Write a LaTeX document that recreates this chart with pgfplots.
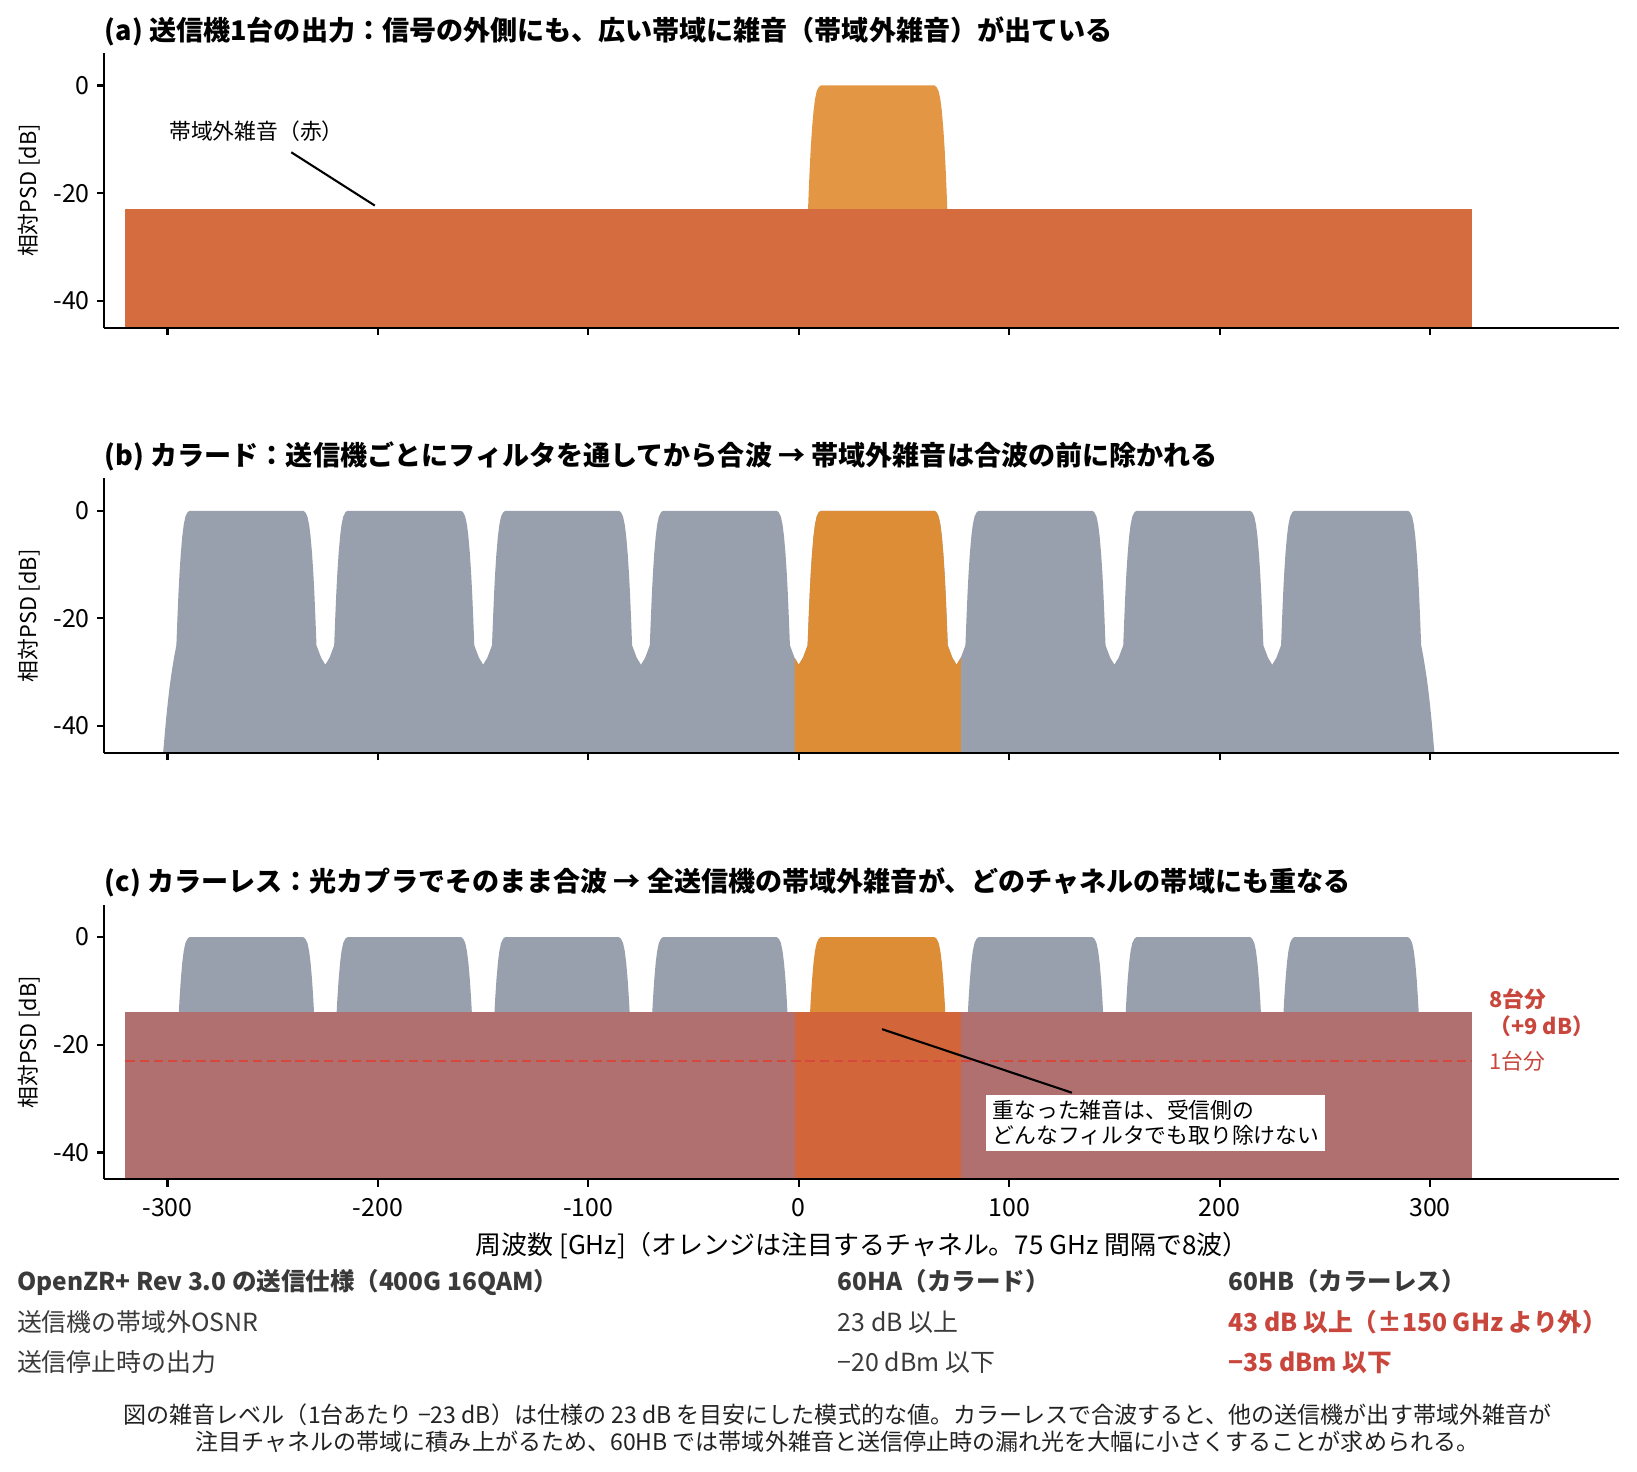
\documentclass[border=0pt]{standalone}
\usepackage{fontspec}
\setmainfont{Noto Sans CJK JP}
\usepackage{pgfplots}
\pgfplotsset{compat=1.18}
\definecolor{cGray}{RGB}{151,160,172}
\definecolor{cOrange}{RGB}{220,141,54}
\definecolor{cOrangeA}{RGB}{227,151,68}
\definecolor{cRedA}{RGB}{212,108,64}
\definecolor{cMauve}{RGB}{175,112,111}
\definecolor{cOrRed}{RGB}{210,101,58}
\definecolor{cDash}{RGB}{214,72,62}
\definecolor{cLab}{RGB}{200,70,60}
\definecolor{cTxt}{RGB}{58,58,58}
\definecolor{cFoot}{RGB}{34,34,34}
\pgfplotsset{
  psd/.style={
    scale only axis, width=727.2bp, height=131.8bp,
    anchor=south west,
    xmin=-330, xmax=390, ymin=-45, ymax=6,
    axis x line*=bottom, axis y line*=left,
    axis line style={line width=1bp, -},
    xtick={-300,-200,-100,0,100,200,300},
    ytick={-40,-20,0},
    yticklabels={-40,-20,0},
    tick align=outside, major tick length=3.5bp,
    every tick/.style={black, line width=1bp},
    tick label style={font=\fontsize{12}{14}\selectfont},
    xticklabel style={yshift=-2.2bp},
    axis on top,
  }
}
\begin{document}
\begin{tikzpicture}
\path[use as bounding box] (0,0) rectangle (785.76bp,706.56bp);

% ---------------- (a)
\begin{axis}[psd, at={(50.11bp,549.22bp)}, xticklabels={}]
\addplot[draw=none, fill=cOrangeA] coordinates {(4.2,-25) (4.7,-20) (5.2,-15.4) (5.7,-11.6) (6.3,-8.0) (7.0,-4.8) (7.7,-2.6) (8.5,-1.1) (9.5,-0.3) (10.5,0) (64.5,0) (65.5,-0.3) (66.5,-1.1) (67.3,-2.6) (68.0,-4.8) (68.7,-8.0) (69.3,-11.6) (69.8,-15.4) (70.3,-20) (70.8,-25)};
\addplot[draw=none, fill=cRedA] coordinates {(-320,-45) (-320,-23) (320,-23) (320,-45)};
\draw[line width=1bp] (axis cs:-241.2,-12.4) -- (axis cs:-201.5,-22.3);
\node[anchor=west, inner sep=0pt, font=\fontsize{10.5}{12}\selectfont] at (axis cs:-299.3,-8.5) {帯域外雑音（赤）};
\end{axis}

% ---------------- (b)
\begin{axis}[psd, at={(50.11bp,345.1bp)}, xticklabels={}]
\addplot[draw=none, fill=cGray] coordinates {
(-302.1,-45) (-301.6,-42.8) (-301.1,-40.5) (-300.5,-38.0) (-299.8,-35.4) (-299.1,-33.0) (-298.3,-30.7) (-297.5,-28.7) (-296.7,-26.8) (-295.8,-25)
(-295.3,-20) (-294.8,-15.4) (-294.3,-11.6) (-293.7,-8.0) (-293.0,-4.8) (-292.3,-2.6) (-291.5,-1.1) (-290.5,-0.3) (-289.5,0)
(-235.5,0) (-234.5,-0.3) (-233.5,-1.1) (-232.7,-2.6) (-232.0,-4.8) (-231.3,-8.0) (-230.7,-11.6) (-230.2,-15.4) (-229.7,-20) (-229.2,-25) (-227.0,-27.3) (-225.0,-28.6)
(-223.0,-27.3) (-220.8,-25) (-220.3,-20) (-219.8,-15.4) (-219.3,-11.6) (-218.7,-8.0) (-218.0,-4.8) (-217.3,-2.6) (-216.5,-1.1) (-215.5,-0.3) (-214.5,0)
(-160.5,0) (-159.5,-0.3) (-158.5,-1.1) (-157.7,-2.6) (-157.0,-4.8) (-156.3,-8.0) (-155.7,-11.6) (-155.2,-15.4) (-154.7,-20) (-154.2,-25) (-152.0,-27.3) (-150.0,-28.6)
(-148.0,-27.3) (-145.8,-25) (-145.3,-20) (-144.8,-15.4) (-144.3,-11.6) (-143.7,-8.0) (-143.0,-4.8) (-142.3,-2.6) (-141.5,-1.1) (-140.5,-0.3) (-139.5,0)
(-85.5,0) (-84.5,-0.3) (-83.5,-1.1) (-82.7,-2.6) (-82.0,-4.8) (-81.3,-8.0) (-80.7,-11.6) (-80.2,-15.4) (-79.7,-20) (-79.2,-25) (-77.0,-27.3) (-75.0,-28.6)
(-73.0,-27.3) (-70.8,-25) (-70.3,-20) (-69.8,-15.4) (-69.3,-11.6) (-68.7,-8.0) (-68.0,-4.8) (-67.3,-2.6) (-66.5,-1.1) (-65.5,-0.3) (-64.5,0)
(-10.5,0) (-9.5,-0.3) (-8.5,-1.1) (-7.7,-2.6) (-7.0,-4.8) (-6.3,-8.0) (-5.7,-11.6) (-5.2,-15.4) (-4.7,-20) (-4.2,-25) (-2.0,-27.3) (0.0,-28.6)
(2.0,-27.3) (4.2,-25) (4.7,-20) (5.2,-15.4) (5.7,-11.6) (6.3,-8.0) (7.0,-4.8) (7.7,-2.6) (8.5,-1.1) (9.5,-0.3) (10.5,0)
(64.5,0) (65.5,-0.3) (66.5,-1.1) (67.3,-2.6) (68.0,-4.8) (68.7,-8.0) (69.3,-11.6) (69.8,-15.4) (70.3,-20) (70.8,-25) (73.0,-27.3) (75.0,-28.6)
(77.0,-27.3) (79.2,-25) (79.7,-20) (80.2,-15.4) (80.7,-11.6) (81.3,-8.0) (82.0,-4.8) (82.7,-2.6) (83.5,-1.1) (84.5,-0.3) (85.5,0)
(139.5,0) (140.5,-0.3) (141.5,-1.1) (142.3,-2.6) (143.0,-4.8) (143.7,-8.0) (144.3,-11.6) (144.8,-15.4) (145.3,-20) (145.8,-25) (148.0,-27.3) (150.0,-28.6)
(152.0,-27.3) (154.2,-25) (154.7,-20) (155.2,-15.4) (155.7,-11.6) (156.3,-8.0) (157.0,-4.8) (157.7,-2.6) (158.5,-1.1) (159.5,-0.3) (160.5,0)
(214.5,0) (215.5,-0.3) (216.5,-1.1) (217.3,-2.6) (218.0,-4.8) (218.7,-8.0) (219.3,-11.6) (219.8,-15.4) (220.3,-20) (220.8,-25) (223.0,-27.3) (225.0,-28.6)
(227.0,-27.3) (229.2,-25) (229.7,-20) (230.2,-15.4) (230.7,-11.6) (231.3,-8.0) (232.0,-4.8) (232.7,-2.6) (233.5,-1.1) (234.5,-0.3) (235.5,0)
(289.5,0) (290.5,-0.3) (291.5,-1.1) (292.3,-2.6) (293.0,-4.8) (293.7,-8.0) (294.3,-11.6) (294.8,-15.4) (295.3,-20) (295.8,-25) (296.7,-26.8) (297.5,-28.7) (298.3,-30.7) (299.1,-33.0) (299.8,-35.4) (300.5,-38.0) (301.1,-40.5) (301.6,-42.8) (302.1,-45)
};
\addplot[draw=none, fill=cOrange] coordinates {
(-2.0,-45) (-2.0,-27.3) (0.0,-28.6)
(2.0,-27.3) (4.2,-25) (4.7,-20) (5.2,-15.4) (5.7,-11.6) (6.3,-8.0) (7.0,-4.8) (7.7,-2.6) (8.5,-1.1) (9.5,-0.3) (10.5,0)
(64.5,0) (65.5,-0.3) (66.5,-1.1) (67.3,-2.6) (68.0,-4.8) (68.7,-8.0) (69.3,-11.6) (69.8,-15.4) (70.3,-20) (70.8,-25) (73.0,-27.3) (75.0,-28.6)
(77.0,-27.3) (77.0,-45)
};
\end{axis}

% ---------------- (c)
\begin{axis}[psd, at={(50.11bp,140.45bp)}, xticklabels={-300,-200,-100,0,100,200,300}]
\addplot[draw=none, fill=cGray] coordinates {(-294.9,-16) (-294.3,-11.6) (-293.7,-8.0) (-293.0,-4.8) (-292.3,-2.6) (-291.5,-1.1) (-290.5,-0.3) (-289.5,0) (-235.5,0) (-234.5,-0.3) (-233.5,-1.1) (-232.7,-2.6) (-232.0,-4.8) (-231.3,-8.0) (-230.7,-11.6) (-230.1,-16)};
\addplot[draw=none, fill=cGray] coordinates {(-219.9,-16) (-219.3,-11.6) (-218.7,-8.0) (-218.0,-4.8) (-217.3,-2.6) (-216.5,-1.1) (-215.5,-0.3) (-214.5,0) (-160.5,0) (-159.5,-0.3) (-158.5,-1.1) (-157.7,-2.6) (-157.0,-4.8) (-156.3,-8.0) (-155.7,-11.6) (-155.1,-16)};
\addplot[draw=none, fill=cGray] coordinates {(-144.9,-16) (-144.3,-11.6) (-143.7,-8.0) (-143.0,-4.8) (-142.3,-2.6) (-141.5,-1.1) (-140.5,-0.3) (-139.5,0) (-85.5,0) (-84.5,-0.3) (-83.5,-1.1) (-82.7,-2.6) (-82.0,-4.8) (-81.3,-8.0) (-80.7,-11.6) (-80.1,-16)};
\addplot[draw=none, fill=cGray] coordinates {(-69.9,-16) (-69.3,-11.6) (-68.7,-8.0) (-68.0,-4.8) (-67.3,-2.6) (-66.5,-1.1) (-65.5,-0.3) (-64.5,0) (-10.5,0) (-9.5,-0.3) (-8.5,-1.1) (-7.7,-2.6) (-7.0,-4.8) (-6.3,-8.0) (-5.7,-11.6) (-5.1,-16)};
\addplot[draw=none, fill=cOrange] coordinates {(5.1,-16) (5.7,-11.6) (6.3,-8.0) (7.0,-4.8) (7.7,-2.6) (8.5,-1.1) (9.5,-0.3) (10.5,0) (64.5,0) (65.5,-0.3) (66.5,-1.1) (67.3,-2.6) (68.0,-4.8) (68.7,-8.0) (69.3,-11.6) (69.9,-16)};
\addplot[draw=none, fill=cGray] coordinates {(80.1,-16) (80.7,-11.6) (81.3,-8.0) (82.0,-4.8) (82.7,-2.6) (83.5,-1.1) (84.5,-0.3) (85.5,0) (139.5,0) (140.5,-0.3) (141.5,-1.1) (142.3,-2.6) (143.0,-4.8) (143.7,-8.0) (144.3,-11.6) (144.9,-16)};
\addplot[draw=none, fill=cGray] coordinates {(155.1,-16) (155.7,-11.6) (156.3,-8.0) (157.0,-4.8) (157.7,-2.6) (158.5,-1.1) (159.5,-0.3) (160.5,0) (214.5,0) (215.5,-0.3) (216.5,-1.1) (217.3,-2.6) (218.0,-4.8) (218.7,-8.0) (219.3,-11.6) (219.9,-16)};
\addplot[draw=none, fill=cGray] coordinates {(230.1,-16) (230.7,-11.6) (231.3,-8.0) (232.0,-4.8) (232.7,-2.6) (233.5,-1.1) (234.5,-0.3) (235.5,0) (289.5,0) (290.5,-0.3) (291.5,-1.1) (292.3,-2.6) (293.0,-4.8) (293.7,-8.0) (294.3,-11.6) (294.9,-16)};
\addplot[draw=none, fill=cMauve] coordinates {(-320,-45) (-320,-14) (320,-14) (320,-45)};
\addplot[draw=none, fill=cOrRed] coordinates {(-2,-45) (-2,-14) (77,-14) (77,-45)};
\addplot[cDash, line width=1.3bp, dash pattern=on 4.5bp off 2.3bp] coordinates {(-320,-23) (320,-23)};
\draw[line width=1bp] (axis cs:39.6,-17.1) -- (axis cs:129.8,-28.9);
\node[anchor=north west, fill=white, inner xsep=3bp, inner ysep=2.5bp, align=left, font=\fontsize{10.5}{12}\selectfont] at (axis cs:89.0,-29.3) {重なった雑音は、受信側の\\どんなフィルタでも取り除けない};
\node[anchor=west, inner sep=0pt, align=left, text=cLab, font=\fontsize{10.5}{12.8}\selectfont\bfseries] at (axis cs:328,-14) {8台分\\（+9 dB）};
\node[anchor=west, inner sep=0pt, text=cLab, font=\fontsize{10.5}{12.8}\selectfont] at (axis cs:328,-23) {1台分};
\end{axis}

% titles
\node[anchor=base west, inner sep=0pt, font=\fontsize{13.05}{15.6}\selectfont\bfseries] at (50.11bp,687.2bp) {(a) 送信機1台の出力：信号の外側にも、広い帯域に雑音（帯域外雑音）が出ている};
\node[anchor=base west, inner sep=0pt, font=\fontsize{13.05}{15.6}\selectfont\bfseries] at (50.11bp,483.2bp) {(b) カラード：送信機ごとにフィルタを通してから合波 → 帯域外雑音は合波の前に除かれる};
\node[anchor=base west, inner sep=0pt, font=\fontsize{13.05}{15.6}\selectfont\bfseries] at (50.11bp,278.4bp) {(c) カラーレス：光カプラでそのまま合波 → 全送信機の帯域外雑音が、どのチャネルの帯域にも重なる};

% y labels
\node[rotate=90, font=\fontsize{10.5}{12}\selectfont] at (13.8bp,615.1bp) {相対PSD [dB]};
\node[rotate=90, font=\fontsize{10.5}{12}\selectfont] at (13.8bp,411.0bp) {相対PSD [dB]};
\node[rotate=90, font=\fontsize{10.5}{12}\selectfont] at (13.8bp,206.35bp) {相対PSD [dB]};

% x label
\node[anchor=base, inner sep=0pt, font=\fontsize{12.5}{14}\selectfont] at (413.8bp,104.4bp) {周波数 [GHz]（オレンジは注目するチャネル。75 GHz 間隔で8波）};

% table
\node[anchor=base west, inner sep=0pt, text=cTxt, font=\fontsize{11.8}{14}\selectfont\bfseries] at (8bp,87.1bp) {OpenZR+ Rev 3.0 の送信仕様（400G 16QAM）};
\node[anchor=base west, inner sep=0pt, text=cTxt, font=\fontsize{11.8}{14}\selectfont\bfseries] at (402bp,87.1bp) {60HA（カラード）};
\node[anchor=base west, inner sep=0pt, text=cTxt, font=\fontsize{11.8}{14}\selectfont\bfseries] at (589.5bp,87.1bp) {60HB（カラーレス）};
\node[anchor=base west, inner sep=0pt, text=cTxt, font=\fontsize{12}{14}\selectfont] at (8bp,67.6bp) {送信機の帯域外OSNR};
\node[anchor=base west, inner sep=0pt, text=cTxt, font=\fontsize{12}{14}\selectfont] at (402bp,67.6bp) {23 dB 以上};
\node[anchor=base west, inner sep=0pt, text=cLab, font=\fontsize{11.9}{14}\selectfont\bfseries] at (589.5bp,67.6bp) {43 dB 以上（±150 GHz より外）};
\node[anchor=base west, inner sep=0pt, text=cTxt, font=\fontsize{12}{14}\selectfont] at (8bp,48.0bp) {送信停止時の出力};
\node[anchor=base west, inner sep=0pt, text=cTxt, font=\fontsize{12}{14}\selectfont] at (402bp,48.0bp) {−20 dBm 以下};
\node[anchor=base west, inner sep=0pt, text=cLab, font=\fontsize{11.9}{14}\selectfont\bfseries] at (589.5bp,48.0bp) {−35 dBm 以下};

% footnote
\node[anchor=base, inner sep=0pt, text=cFoot, font=\fontsize{11.1}{13}\selectfont] at (402bp,23.4bp) {図の雑音レベル（1台あたり −23 dB）は仕様の 23 dB を目安にした模式的な値。カラーレスで合波すると、他の送信機が出す帯域外雑音が};
\node[anchor=base, inner sep=0pt, text=cFoot, font=\fontsize{11.1}{13}\selectfont] at (402bp,10.4bp) {注目チャネルの帯域に積み上がるため、60HB では帯域外雑音と送信停止時の漏れ光を大幅に小さくすることが求められる。};
\end{tikzpicture}
\end{document}
